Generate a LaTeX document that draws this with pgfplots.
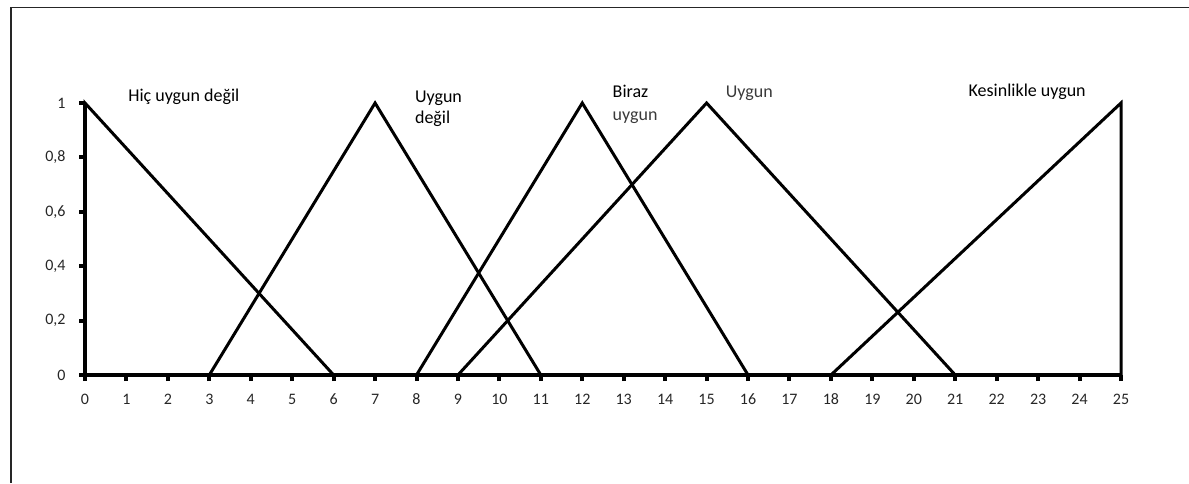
\documentclass[border=0pt]{standalone}
\usepackage{pgfplots}
\pgfplotsset{compat=1.18}
\usepackage{fontspec}
\setmainfont{Carlito}
\definecolor{ticktxt}{HTML}{262626}
\definecolor{lbl}{HTML}{000000}
\definecolor{lblgray}{HTML}{3A3A3A}
\newcommand{\tickfont}{\fontsize{16}{19}\selectfont}
\begin{document}
\begin{tikzpicture}
\useasboundingbox (0,0) rectangle (1189pt,483pt);
\draw[line width=1.6pt, black!85] (11pt,0pt) -- (11pt,475.5pt) -- (1189pt,475.5pt);
\begin{axis}[
  at={(85pt,108pt)}, anchor=south west,
  scale only axis, width=1036pt, height=272pt,
  xmin=0, xmax=25, ymin=0, ymax=1,
  axis x line=bottom, axis y line=left,
  axis line style={-, line width=4.5pt, black},
  xtick={0,...,25},
  ytick={0,0.2,0.4,0.6,0.8,1},
  xticklabel={\tickfont\color{ticktxt}\pgfmathprintnumber[assume math mode=true]{\tick}},
  yticklabel={\tickfont\color{ticktxt}\pgfmathprintnumber[assume math mode=true,use comma]{\tick}},
  xtick style={draw=black, line width=4pt},
  ytick style={draw=black, line width=4pt},
  major tick length=6pt,
  tick align=outside,
  xticklabel style={anchor=base, yshift=-23pt},
  yticklabel style={anchor=east, xshift=-10pt},
  clip=false,
]
\addplot[black, line width=3pt, mark=none] coordinates {(0,0) (0,1) (6,0)};
\addplot[black, line width=3pt, mark=none] coordinates {(3,0) (7,1) (11,0)};
\addplot[black, line width=3pt, mark=none] coordinates {(8,0) (12,1) (16,0)};
\addplot[black, line width=3pt, mark=none] coordinates {(9,0) (15,1) (21,0)};
\addplot[black, line width=3pt, mark=none] coordinates {(18,0) (25,1) (25,0)};
\node[anchor=base west, inner sep=0pt, font=\fontsize{18}{20}\selectfont, text=lbl] at (axis cs:1.04,1.005) {Hiç uygun değil};
\node[anchor=base west, inner sep=0pt, font=\fontsize{18}{20}\selectfont, text=lbl] at (axis cs:7.96,1.001) {Uygun};
\node[anchor=base west, inner sep=0pt, font=\fontsize{18}{20}\selectfont, text=lbl] at (axis cs:7.96,0.923) {değil};
\node[anchor=base west, inner sep=0pt, font=\fontsize{18}{20}\selectfont, text=lbl] at (axis cs:12.73,1.021) {Biraz};
\node[anchor=base west, inner sep=0pt, font=\fontsize{18}{20}\selectfont, text=lblgray] at (axis cs:12.73,0.9375) {uygun};
\node[anchor=base west, inner sep=0pt, font=\fontsize{18}{20}\selectfont, text=lblgray] at (axis cs:15.46,1.021) {Uygun};
\node[anchor=base west, inner sep=0pt, font=\fontsize{18}{20}\selectfont, text=lbl] at (axis cs:21.32,1.023) {Kesinlikle uygun};
\end{axis}
\end{tikzpicture}
\end{document}
